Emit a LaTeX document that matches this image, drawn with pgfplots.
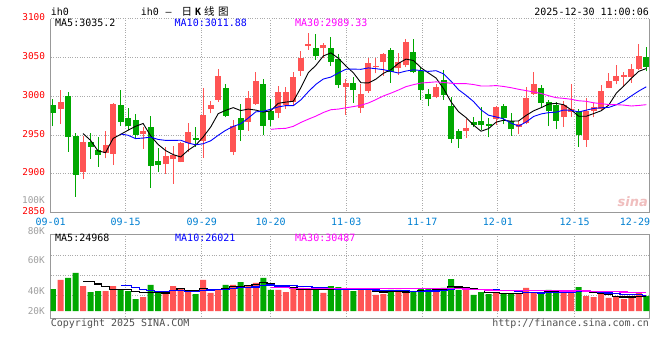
\documentclass[border=0pt]{standalone}
\usepackage{pgfplots}
\pgfplotsset{compat=1.18}
\usepackage{pgfplotstable}
\usepackage{fontspec}
\setmainfont{DejaVu Sans Mono}
\newfontfamily\cjk{Noto Sans CJK SC}
\newfontfamily\sinaf{DejaVu Sans}
\definecolor{cRed}{RGB}{255,84,84}
\definecolor{cGreen}{RGB}{0,168,0}
\definecolor{cGrid}{RGB}{170,170,170}
\definecolor{cBorder}{RGB}{153,153,153}
\definecolor{cTick}{RGB}{0,128,210}
\definecolor{cBlue}{RGB}{0,0,255}
\definecolor{cMag}{RGB}{255,0,255}
\definecolor{cLab}{RGB}{160,160,160}
\definecolor{cCopy}{RGB}{80,80,80}
\definecolor{cSina}{RGB}{240,190,190}

\pgfplotstableread{
i o h l c v
0 2988.8 2996.5 2961.7 2978.9 36.5
1 2983.6 3008.1 2964.3 2993.1 51.5
2 3000.4 3005.5 2928.6 2948.0 54.8
3 2948.8 2952.3 2870.6 2899.0 63.1
4 2902.9 2948.8 2893.4 2941.1 41.5
5 2941.1 2952.3 2919.2 2935.1 31.5
6 2930.8 2948.0 2909.3 2924.8 33.2
7 2927.3 2955.3 2920.0 2937.2 33.2
8 2926.0 2991.8 2911.5 2990.1 41.5
9 2988.8 3008.1 2962.1 2967.3 36.5
10 2972.0 2984.9 2956.6 2962.1 33.2
11 2969.4 2977.2 2945.0 2950.1 19.9
12 2951.8 2960.9 2932.5 2955.3 23.2
13 2960.4 2974.6 2882.2 2910.6 43.2
14 2916.6 2932.9 2902.9 2911.4 31.5
15 2912.7 2935.1 2899.9 2923.0 31.5
16 2918.8 2935.9 2887.0 2924.3 41.5
17 2915.8 2940.7 2914.9 2939.8 36.5
18 2939.8 2965.6 2928.6 2954.0 31.5
19 2946.2 2960.9 2935.1 2944.1 28.2
20 2942.4 3010.3 2920.9 2975.9 51.5
21 2983.6 2993.9 2978.0 2988.3 29.9
22 2995.7 3035.2 2993.1 3026.1 36.5
23 3010.3 3015.9 2972.9 2975.0 43.2
24 2928.6 2969.4 2924.3 2961.7 43.2
25 2972.0 2990.1 2942.4 2957.0 48.1
26 2967.3 3006.8 2955.7 2997.8 41.5
27 2990.1 3031.3 2988.8 3019.7 46.5
28 3015.9 3022.3 2950.1 2962.1 54.8
29 2981.0 2996.9 2961.3 2969.9 34.9
30 2978.9 3013.7 2971.6 3005.5 34.9
31 2988.8 3012.4 2983.6 3005.5 31.5
32 2992.6 3031.3 2987.5 3024.9 38.2
33 3033.0 3058.4 3026.6 3049.4 38.2
34 3065.3 3081.1 3059.7 3067.4 36.5
35 3062.2 3080.3 3046.8 3051.9 34.9
36 3061.8 3068.3 3049.4 3066.5 29.9
37 3062.2 3076.9 3039.5 3044.6 41.5
38 3048.1 3054.5 3010.3 3015.0 39.8
39 3012.4 3022.3 2975.9 3017.1 34.9
40 3017.6 3024.9 2991.8 3008.1 33.2
41 2985.3 3015.9 2978.9 3002.9 34.9
42 3006.8 3049.4 3004.7 3042.9 34.9
43 3037.3 3049.4 3029.6 3039.5 26.6
44 3044.2 3055.8 3026.6 3054.9 28.2
45 3059.7 3061.8 3017.6 3030.9 34.9
46 3036.0 3055.8 3027.4 3044.2 34.9
47 3039.9 3073.4 3037.3 3070.0 33.2
48 3057.1 3073.4 3029.6 3030.9 31.5
49 3033.0 3037.3 2995.7 3008.1 36.5
50 3002.9 3009.8 2987.1 2996.9 36.5
51 2999.1 3015.4 2997.4 3011.9 36.5
52 3020.6 3033.9 2995.7 3002.1 38.2
53 2987.5 2999.5 2939.8 2945.4 53.1
54 2954.8 2957.4 2933.8 2944.5 34.9
55 2955.7 2970.3 2946.7 2959.1 34.9
56 2966.9 2972.9 2960.4 2963.4 26.6
57 2968.6 2985.8 2956.6 2962.6 31.5
58 2964.3 2971.6 2947.1 2962.1 28.2
59 2970.3 2987.5 2963.4 2986.2 31.5
60 2987.5 2990.1 2963.9 2971.6 28.2
61 2968.6 2978.0 2949.3 2957.4 28.2
62 2960.0 2968.2 2951.8 2963.9 28.2
63 2966.0 3011.5 2963.9 2997.8 38.2
64 3003.4 3030.9 3002.1 3015.9 31.5
65 3010.7 3014.6 2984.9 2991.8 28.2
66 2992.6 2995.2 2961.7 2980.6 34.9
67 2989.2 2992.6 2957.4 2968.6 31.5
68 2972.9 2993.9 2960.9 2988.8 33.2
69 2979.8 3015.9 2973.3 2983.2 33.2
70 2980.6 2983.2 2935.1 2950.1 39.8
71 2944.1 2997.4 2935.1 2980.6 24.9
72 2980.6 2991.8 2972.9 2986.2 23.2
73 2984.1 3014.6 2982.3 3006.8 28.2
74 3011.1 3029.6 3010.3 3019.7 21.6
75 3019.7 3039.9 3015.4 3026.1 23.2
76 3025.3 3031.7 3012.4 3027.9 19.9
77 3025.3 3041.2 3017.6 3035.2 23.2
78 3035.2 3067.4 3033.9 3051.9 31.5
79 3050.2 3063.1 3032.2 3037.8 24.9
}\candles

% cumulative sums (closes taken relative to 3000 to stay in range)
\pgfplotstablecreatecol[create col/expr accum={\pgfmathaccuma+\thisrow{c}-3000}{0}]{cc}\candles
\pgfplotstablecreatecol[create col/expr accum={\pgfmathaccuma+\thisrow{v}}{0}]{cv}\candles

% collect cumulative sums in pgfmath arrays (index 0 = before first row)
\gdef\cclist{0}\gdef\cvlist{0}
\pgfplotstablecreatecol[create col/assign/.code={%
  \pgfmathsetmacro\tmpa{\thisrow{cc}}\pgfmathsetmacro\tmpb{\thisrow{cv}}%
  \xdef\cclist{\cclist,\tmpa}\xdef\cvlist{\cvlist,\tmpb}%
  \pgfkeyssetvalue{/pgfplots/table/create col/next content}{0}}]{dummy}\candles

\newcommand\makema[4]{%
  \pgfplotstablecreatecol[create col/assign/.code={%
    \pgfmathtruncatemacro\rr{\thisrow{i}}%
    \ifnum\rr<\numexpr#2-1\relax
      \def\entry{nan}%
    \else
      \pgfmathtruncatemacro\ia{\rr+1}%
      \pgfmathtruncatemacro\ib{\rr+1-#2}%
      \edef\maexpr{#4+({#1}[\ia]-{#1}[\ib])/#2}%
      \pgfmathparse{\maexpr}%
      \let\entry\pgfmathresult
    \fi
    \pgfkeyslet{/pgfplots/table/create col/next content}\entry
  }]{#3}\candles}

\makema{\cclist}{5}{ma5}{3000}
\makema{\cclist}{10}{ma10}{3000}
\makema{\cclist}{30}{ma30}{3000}
\makema{\cvlist}{5}{vma5}{0}
\makema{\cvlist}{10}{vma10}{0}
\makema{\cvlist}{30}{vma30}{0}

\pgfplotsset{
  kstyle/.style={
    scale only axis, width=598.8pt,
    xmin=-0.306, xmax=79.43,
    xtick={9.68,19.81,28.99,39.05,49.17,59.25,69.47},
    grid=major, major grid style={draw=cGrid, dotted, line width=1pt},
    major tick length=0pt,
    every non boxed x axis/.style={},
    every non boxed y axis/.style={},
    axis line style={draw=cBorder, line width=1pt},
  },
  candle/.style n args={3}{draw=none, mark=none, forget plot,
    restrict expr to domain={\thisrow{c}-\thisrow{o}}{#1},
    error bars/.cd, y dir=plus, y explicit, error mark=none,
    error bar style={draw=#2, solid, line width=#3}},
}

\begin{document}
\begin{tikzpicture}
\path[use as bounding box, fill=white] (0pt,0pt) rectangle (660pt,360pt);

% ---------------- price panel ----------------
\begin{axis}[kstyle,
  at={(50.7pt,147.3pt)}, anchor=south west, height=194pt,
  ymin=2850, ymax=3100,
  axis x line=bottom, axis y line=box,
  x axis line style={-},
  ytick={2850,2900,2950,3000,3050,3100},
  yticklabels={2850,2900,2950,3000,3050,3100},
  yticklabel style={anchor=base east, inner sep=0pt, xshift=-5.5pt, yshift=-2pt,
    text=red, font=\fontsize{9.4}{11}\selectfont},
  xticklabels={09-15,09-29,10-20,11-03,11-17,12-01,12-15},
  extra x ticks={-0.306,77.5},
  extra x tick labels={09-01,12-29},
  extra x tick style={grid=none},
  xticklabel style={anchor=base, inner sep=0pt, yshift=-12.3pt,
    text=cTick, font=\fontsize{10}{12}\selectfont},
]
% wicks
\addplot[candle={0:1000}{cRed}{1pt}]
  table[x=i, y=l, y error expr=\thisrow{h}-\thisrow{l}] {\candles};
\addplot[candle={-1000:-0.0001}{cGreen}{1pt}]
  table[x=i, y=l, y error expr=\thisrow{h}-\thisrow{l}] {\candles};
% bodies
\addplot[candle={0:1000}{cRed}{6pt}]
  table[x=i, y=o, y error expr=\thisrow{c}-\thisrow{o}] {\candles};
\addplot[candle={-1000:-0.0001}{cGreen}{6pt}]
  table[x=i, y=c, y error expr=\thisrow{o}-\thisrow{c}] {\candles};
% moving averages
\addplot[black, line width=0.9pt, mark=none] table[x=i, y=ma5] {\candles};
\addplot[cBlue, line width=0.9pt, mark=none] table[x=i, y=ma10] {\candles};
\addplot[cMag, line width=0.9pt, mark=none] table[x=i, y=ma30] {\candles};
\end{axis}

% ---------------- volume panel ----------------
\begin{axis}[kstyle,
  at={(50.7pt,41.7pt)}, anchor=south west, height=84pt,
  ymin=-12.1, ymax=127.3,
  axis lines=box,
  ytick={26.1,59.3,92.5}, yticklabels={},
  xticklabels={},
]
\addplot[ybar, bar width=6pt, bar shift=0pt, fill=cRed, draw=none, forget plot,
  restrict expr to domain={\thisrow{c}-\thisrow{o}}{0:1000}]
  table[x=i, y=v] {\candles};
\addplot[ybar, bar width=6pt, bar shift=0pt, fill=cGreen, draw=none, forget plot,
  restrict expr to domain={\thisrow{c}-\thisrow{o}}{-1000:-0.0001}]
  table[x=i, y=v] {\candles};
\addplot[black, line width=1.2pt, mark=none, const plot mark mid] table[x=i, y=vma5] {\candles};
\addplot[cBlue, line width=1.2pt, mark=none, const plot mark mid] table[x=i, y=vma10] {\candles};
\addplot[cMag, line width=1.2pt, mark=none, const plot mark mid] table[x=i, y=vma30] {\candles};
\end{axis}

% ---------------- texts ----------------
\begin{scope}[every node/.style={inner sep=0pt, font=\fontsize{10}{12}\selectfont}]
\node[anchor=base west] at (50.7pt,345pt) {ih0};
\node[anchor=base west] at (140.7pt,345pt) {ih0};
\node[anchor=base west] at (165.5pt,345pt) {–};
\node[anchor=base west, font=\cjk\fontsize{10.5}{12}\selectfont] at (181.5pt,345pt) {日};
\node[anchor=base west, font=\bfseries\fontsize{10}{12}\selectfont] at (195pt,345pt) {K};
\node[anchor=base west, font=\cjk\fontsize{10.5}{12}\selectfont] at (204pt,345pt) {线};
\node[anchor=base west, font=\cjk\fontsize{10.5}{12}\selectfont] at (218pt,345pt) {图};
\node[anchor=base east] at (649pt,345pt) {2025-12-30 11:00:06};

\node[anchor=base west, text=black] at (55pt,333.3pt) {MA5:3035.2};
\node[anchor=base west, text=cBlue] at (174.5pt,333.3pt) {MA10:3011.88};
\node[anchor=base west, text=cMag] at (295pt,333.3pt) {MA30:2989.33};

\node[anchor=base west, text=black] at (55pt,118.3pt) {MA5:24968};
\node[anchor=base west, text=cBlue] at (175pt,118.3pt) {MA10:26021};
\node[anchor=base west, text=cMag] at (295pt,118.3pt) {MA30:30487};

\node[anchor=base east, text=cLab, font=\fontsize{9.4}{11}\selectfont] at (45pt,156.7pt) {100K};
\node[anchor=base east, text=cLab, font=\fontsize{9.4}{11}\selectfont] at (45pt,126pt) {80K};
\node[anchor=base east, text=cLab, font=\fontsize{9.4}{11}\selectfont] at (45pt,96.7pt) {60K};
\node[anchor=base east, text=cLab, font=\fontsize{9.4}{11}\selectfont] at (45pt,66pt) {40K};
\node[anchor=base east, text=cLab, font=\fontsize{9.4}{11}\selectfont] at (45pt,45.7pt) {20K};

\node[anchor=base west, text=cCopy] at (50.7pt,33.5pt) {Copyright 2025 SINA.COM};
\node[anchor=base east, text=cCopy] at (649pt,33.5pt) {http://finance.sina.com.cn};

\node[anchor=base east, text=cSina, font=\sinaf\bfseries\itshape\fontsize{13}{14}\selectfont] at (648pt,154pt) {sina};
\end{scope}
\end{tikzpicture}
\end{document}
